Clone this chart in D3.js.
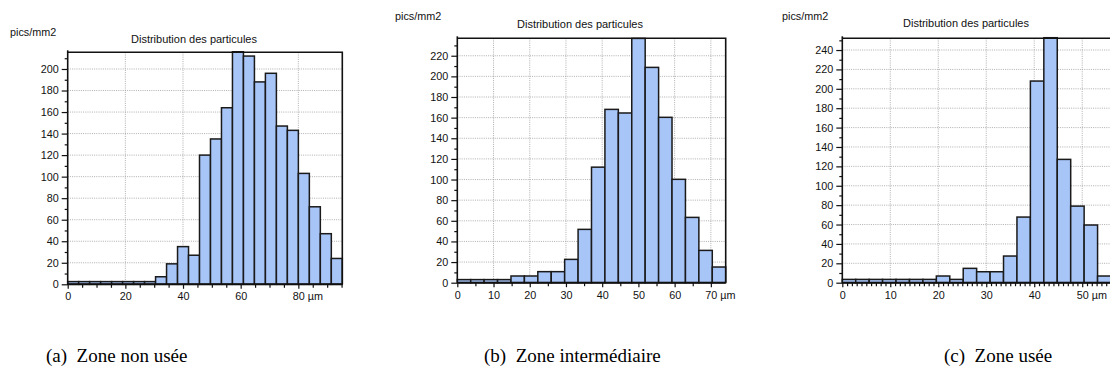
<!DOCTYPE html>
<html><head><meta charset="utf-8">
<script src="https://cdn.jsdelivr.net/npm/d3@7"></script>
<style>
body{margin:0;background:#fff;}
svg{display:block;}
text{font-family:"Liberation Sans",Arial,sans-serif;fill:#111;}
.cap{font-family:"Liberation Serif","Times New Roman",serif;fill:#000;}
</style></head>
<body>
<svg id="fig" width="1110" height="382"></svg>
<script>
// ---------- data ----------
const yAxisTitle = "pics/mm2";
const chartTitle = "Distribution des particules";
const unitLabel = "µm";
const captions = ["(a)\u2002Zone non usée", "(b)\u2002Zone intermédiaire", "(c)\u2002Zone usée"];

const binWidthA = 3.81;
const valuesA = [2.5,2.5,2.5,2.5,2.5,2.5,2.5,2.5,7,19,35,27,120,135,164,216,212,188,196,147,143,103,72,47,24];
const xTicksA = [0,20,40,60,80];
const yTicksA = [0,20,40,60,80,100,120,140,160,180,200];

const binWidthB = 3.705;
const valuesB = [3,3,3,3,6.5,6.5,10.7,10.7,22.6,51.7,112,168,164.5,236.8,208.7,160.3,100.2,63.3,31.3,15.2];
const xTicksB = [0,10,20,30,40,50,60,70];
const yTicksB = [0,20,40,60,80,100,120,140,160,180,200,220];

const binWidthC = 2.8;
const valuesC = [3.4,3.4,3.4,3.4,3.4,3.4,3.4,6.9,3.4,14.8,11.3,11.3,27.5,67.7,208,252.7,127.2,79,59.5,6.9];
const xTicksC = [0,10,20,30,40,50];
const yTicksC = [0,20,40,60,80,100,120,140,160,180,200,220,240];

// ---------- layout ----------
const FS = 10.8;
const panels = [
  {values:valuesA, bw:binWidthA, xTicks:xTicksA, yTicks:yTicksA, xMinorStep:5, yMinorStep:10, yMax:215.5,
   left:67.7, right:342.3, top:52.3, bottom:284.3, ylab:[10,36], title:[194,43], cap:[46,362]},
  {values:valuesB, bw:binWidthB, xTicks:xTicksB, yTicks:yTicksB, xMinorStep:5, yMinorStep:10, yMax:236.9,
   left:457.3, right:725.7, top:38.3, bottom:282.7, ylab:[395,20], title:[580,28], cap:[484,362]},
  {values:valuesC, bw:binWidthC, xTicks:xTicksC, yTicks:yTicksC, xMinorStep:1, yMinorStep:10, yMax:252.1,
   left:842.3, right:1111, top:38.3, bottom:282.7, ylab:[782,20], title:[966,26.5], cap:[944,362]}
];

const svg = d3.select("#fig");

panels.forEach((p, idx) => {
  const xMax = p.values.length * p.bw;
  const x = d3.scaleLinear().domain([0, xMax]).range([p.left, p.right]);
  const y = d3.scaleLinear().domain([0, p.yMax]).range([p.bottom, p.top]);
  const g = svg.append("g");

  // grid
  g.append("g").selectAll("line").data(p.xTicks.filter(v => v > 0)).join("line")
    .attr("x1", d => x(d)).attr("x2", d => x(d))
    .attr("y1", p.top).attr("y2", p.bottom)
    .attr("stroke", "#9a9a9a").attr("stroke-width", 0.8).attr("stroke-dasharray", "1,1.2");
  g.append("g").selectAll("line").data(p.yTicks.filter(v => v > 0)).join("line")
    .attr("x1", p.left).attr("x2", p.right)
    .attr("y1", d => y(d)).attr("y2", d => y(d))
    .attr("stroke", "#9a9a9a").attr("stroke-width", 0.8).attr("stroke-dasharray", "1,1.2");

  // bars
  g.append("g").selectAll("rect").data(p.values).join("rect")
    .attr("x", (d, i) => x(i * p.bw))
    .attr("width", (d, i) => x((i + 1) * p.bw) - x(i * p.bw))
    .attr("y", d => y(d))
    .attr("height", d => y(0) - y(d))
    .attr("fill", "#a8c5f8").attr("stroke", "#1a1a1a").attr("stroke-width", 1.5);

  // frame top/right
  g.append("path")
    .attr("d", `M${p.left},${p.top}H${p.right}V${p.bottom}`)
    .attr("fill", "none").attr("stroke", "#111").attr("stroke-width", 1.6);

  // y axis
  const yMinor = d3.range(0, p.yMax, p.yMinorStep).filter(v => !p.yTicks.includes(v));
  g.append("g").attr("transform", `translate(${p.left},0)`)
    .call(d3.axisLeft(y).tickValues(yMinor).tickSize(3).tickFormat(""))
    .call(a => a.select(".domain").remove())
    .call(a => a.selectAll("line").attr("stroke", "#111").attr("stroke-width", 1.2));
  g.append("g").attr("transform", `translate(${p.left},0)`)
    .call(d3.axisLeft(y).tickValues(p.yTicks).tickSize(6).tickPadding(3).tickFormat(d3.format("d")))
    .call(a => a.select(".domain").remove())
    .call(a => a.selectAll("line").attr("stroke", "#111").attr("stroke-width", 1.2))
    .call(a => a.selectAll("text").attr("font-size", FS).attr("fill", "#111")
      .attr("font-family", "'Liberation Sans',Arial,sans-serif"));
  g.append("line").attr("x1", p.left).attr("x2", p.left).attr("y1", p.top - 2).attr("y2", p.bottom)
    .attr("stroke", "#111").attr("stroke-width", 1.6);

  // x axis
  const xMinor = d3.range(0, xMax + 1e-6, p.xMinorStep).filter(v => !p.xTicks.includes(v));
  g.append("g").attr("transform", `translate(0,${p.bottom})`)
    .call(d3.axisBottom(x).tickValues(xMinor).tickSize(3.5).tickFormat(""))
    .call(a => a.select(".domain").remove())
    .call(a => a.selectAll("line").attr("stroke", "#111").attr("stroke-width", 1.2));
  g.append("g").attr("transform", `translate(0,${p.bottom})`)
    .call(d3.axisBottom(x).tickValues(p.xTicks).tickSize(4.5).tickPadding(4).tickFormat(d3.format("d")))
    .call(a => a.select(".domain").remove())
    .call(a => a.selectAll("line").attr("stroke", "#111").attr("stroke-width", 1.2))
    .call(a => a.selectAll("text").attr("font-size", FS).attr("fill", "#111")
      .attr("font-family", "'Liberation Sans',Arial,sans-serif"));
  g.append("line").attr("x1", p.left).attr("x2", p.right).attr("y1", p.bottom).attr("y2", p.bottom)
    .attr("stroke", "#111").attr("stroke-width", 2);
  const lastTick = p.xTicks[p.xTicks.length - 1];
  g.append("text").attr("x", x(lastTick) + 9.5).attr("y", p.bottom + 8.5)
    .attr("dy", "0.71em").attr("font-size", FS).text(unitLabel);

  // labels
  g.append("text").attr("x", p.ylab[0]).attr("y", p.ylab[1]).attr("font-size", 10.8).text(yAxisTitle);
  g.append("text").attr("x", p.title[0]).attr("y", p.title[1]).attr("font-size", 11)
    .attr("text-anchor", "middle").text(chartTitle);
  svg.append("text").attr("class", "cap").attr("x", p.cap[0]).attr("y", p.cap[1])
    .attr("font-size", 19).text(captions[idx]);
});
</script>
</body></html>
